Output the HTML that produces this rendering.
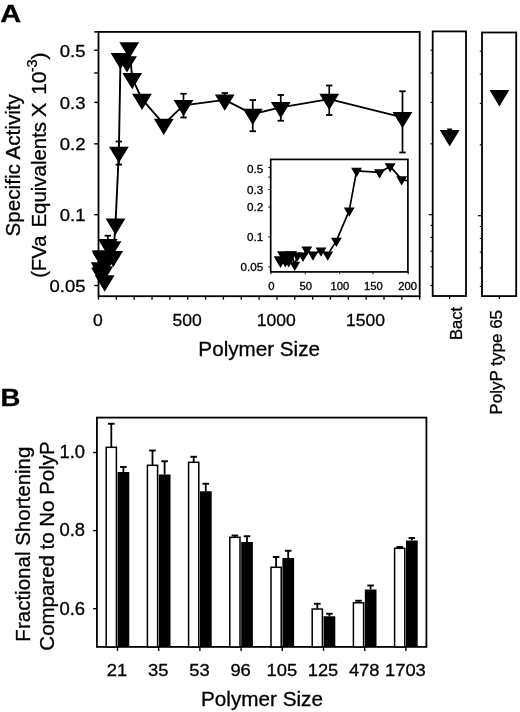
<!DOCTYPE html>
<html><head><meta charset="utf-8"><title>Figure</title>
<style>html,body{margin:0;padding:0;background:#fff}body{width:520px;height:712px;overflow:hidden}</style></head>
<body>
<svg width="520" height="712" viewBox="0 0 520 712" style="display:block;will-change:transform;opacity:0.999">
<rect width="520" height="712" fill="#fff"/>
<style>text{stroke:#000;stroke-width:0.3px;fill:#000}</style>
<text x="0" y="22.2" font-family="Liberation Sans, sans-serif" font-size="24.3" font-weight="bold" transform="translate(0.3,0) scale(1.19,1)">A</text>
<text x="0" y="406.3" font-family="Liberation Sans, sans-serif" font-size="23.7" font-weight="bold" transform="translate(0.4,0) scale(1.16,1)">B</text>
<rect x="98.5" y="31.9" width="321.2" height="264.3" fill="none" stroke="#000" stroke-width="1.8"/>
<line x1="94.2" y1="50.20" x2="98.5" y2="50.20" stroke="#000" stroke-width="1.4"/>
<text x="85.5" y="56.80" font-family="Liberation Sans, sans-serif" font-size="17.3" text-anchor="end" transform="translate(85.5,0) scale(1.07,1) translate(-85.5,0)">0.5</text>
<line x1="94.2" y1="73.00" x2="98.5" y2="73.00" stroke="#000" stroke-width="1.4"/>
<line x1="94.2" y1="102.40" x2="98.5" y2="102.40" stroke="#000" stroke-width="1.4"/>
<text x="85.5" y="109.00" font-family="Liberation Sans, sans-serif" font-size="17.3" text-anchor="end" transform="translate(85.5,0) scale(1.07,1) translate(-85.5,0)">0.3</text>
<line x1="94.2" y1="143.84" x2="98.5" y2="143.84" stroke="#000" stroke-width="1.4"/>
<text x="85.5" y="150.44" font-family="Liberation Sans, sans-serif" font-size="17.3" text-anchor="end" transform="translate(85.5,0) scale(1.07,1) translate(-85.5,0)">0.2</text>
<line x1="94.2" y1="214.67" x2="98.5" y2="214.67" stroke="#000" stroke-width="1.4"/>
<text x="85.5" y="221.27" font-family="Liberation Sans, sans-serif" font-size="17.3" text-anchor="end" transform="translate(85.5,0) scale(1.07,1) translate(-85.5,0)">0.1</text>
<line x1="94.2" y1="285.50" x2="98.5" y2="285.50" stroke="#000" stroke-width="1.4"/>
<text x="85.5" y="292.10" font-family="Liberation Sans, sans-serif" font-size="17.3" text-anchor="end" transform="translate(85.5,0) scale(1.07,1) translate(-85.5,0)">0.05</text>
<line x1="94.3" y1="31.9" x2="98.5" y2="31.9" stroke="#000" stroke-width="1.6"/>
<line x1="98.50" y1="296.2" x2="98.50" y2="299.7" stroke="#000" stroke-width="1.3"/>
<line x1="116.34" y1="296.2" x2="116.34" y2="299.7" stroke="#000" stroke-width="1.3"/>
<line x1="134.19" y1="296.2" x2="134.19" y2="299.7" stroke="#000" stroke-width="1.3"/>
<line x1="152.03" y1="296.2" x2="152.03" y2="299.7" stroke="#000" stroke-width="1.3"/>
<line x1="169.88" y1="296.2" x2="169.88" y2="299.7" stroke="#000" stroke-width="1.3"/>
<line x1="187.72" y1="296.2" x2="187.72" y2="299.7" stroke="#000" stroke-width="1.3"/>
<line x1="205.56" y1="296.2" x2="205.56" y2="299.7" stroke="#000" stroke-width="1.3"/>
<line x1="223.41" y1="296.2" x2="223.41" y2="299.7" stroke="#000" stroke-width="1.3"/>
<line x1="241.25" y1="296.2" x2="241.25" y2="299.7" stroke="#000" stroke-width="1.3"/>
<line x1="259.10" y1="296.2" x2="259.10" y2="299.7" stroke="#000" stroke-width="1.3"/>
<line x1="276.94" y1="296.2" x2="276.94" y2="299.7" stroke="#000" stroke-width="1.3"/>
<line x1="294.78" y1="296.2" x2="294.78" y2="299.7" stroke="#000" stroke-width="1.3"/>
<line x1="312.63" y1="296.2" x2="312.63" y2="299.7" stroke="#000" stroke-width="1.3"/>
<line x1="330.47" y1="296.2" x2="330.47" y2="299.7" stroke="#000" stroke-width="1.3"/>
<line x1="348.32" y1="296.2" x2="348.32" y2="299.7" stroke="#000" stroke-width="1.3"/>
<line x1="366.16" y1="296.2" x2="366.16" y2="299.7" stroke="#000" stroke-width="1.3"/>
<line x1="384.00" y1="296.2" x2="384.00" y2="299.7" stroke="#000" stroke-width="1.3"/>
<line x1="401.85" y1="296.2" x2="401.85" y2="299.7" stroke="#000" stroke-width="1.3"/>
<line x1="419.69" y1="296.2" x2="419.69" y2="299.7" stroke="#000" stroke-width="1.3"/>
<text x="97.90" y="325.7" font-family="Liberation Sans, sans-serif" font-size="17.2" text-anchor="middle" transform="translate(97.90,0) scale(1.02,1) translate(-97.90,0)">0</text>
<text x="187.12" y="325.7" font-family="Liberation Sans, sans-serif" font-size="17.2" text-anchor="middle" transform="translate(187.12,0) scale(1.02,1) translate(-187.12,0)">500</text>
<text x="276.34" y="325.7" font-family="Liberation Sans, sans-serif" font-size="17.2" text-anchor="middle" transform="translate(276.34,0) scale(1.02,1) translate(-276.34,0)">1000</text>
<text x="365.56" y="325.7" font-family="Liberation Sans, sans-serif" font-size="17.2" text-anchor="middle" transform="translate(365.56,0) scale(1.02,1) translate(-365.56,0)">1500</text>
<text x="259.2" y="356.3" font-family="Liberation Sans, sans-serif" font-size="19.4" text-anchor="middle" transform="translate(259.2,0) scale(1.065,1) translate(-259.2,0)">Polymer Size</text>
<text transform="translate(19.9,165.3) rotate(-90) scale(1.066,1)" font-family="Liberation Sans, sans-serif" font-size="19.4" text-anchor="middle">Specific Activity</text>
<text transform="translate(46.4,277.85) rotate(-90) scale(1.0401,1)" font-family="Liberation Sans, sans-serif" font-size="19.4">(FVa</text>
<text transform="translate(46.4,227.58) rotate(-90) scale(1.0540,1)" font-family="Liberation Sans, sans-serif" font-size="19.4">Equivalents</text>
<text transform="translate(46.4,117.29) rotate(-90) scale(1.1400,1)" font-family="Liberation Sans, sans-serif" font-size="19.4">X</text>
<text transform="translate(46.4,94.78) rotate(-90) scale(1.0743,1)" font-family="Liberation Sans, sans-serif" font-size="19.4">10</text>
<text transform="translate(37.0,72.24) rotate(-90) scale(0.9643,1)" font-family="Liberation Sans, sans-serif" font-size="15.0">-3</text>
<text transform="translate(46.4,59.71) rotate(-90) scale(1.1627,1)" font-family="Liberation Sans, sans-serif" font-size="19.4">)</text>
<path d="M100.63,267.75 L100.97,273.19 L101.49,255.91 L102.22,272.01 L102.53,258.28 L103.10,272.01 L103.55,256.38 L103.91,255.91 L104.69,280.77 L105.34,258.75 L106.82,258.99 L107.81,244.55 L109.42,256.38 L111.51,246.68 L113.25,256.38 L115.50,224.00 L118.85,152.10 L120.50,58.40 L127.00,61.65 L129.25,47.60 L132.25,78.40 L142.00,99.15 L163.75,124.15 L183.50,105.40 L224.75,99.90 L252.75,114.15 L280.75,107.40 L329.25,99.15 L402.50,117.40" fill="none" stroke="#000" stroke-width="1.9" stroke-linejoin="round"/>
<line x1="107.81" y1="235.70" x2="107.81" y2="244.55" stroke="#000" stroke-width="1.7"/>
<line x1="104.61" y1="235.70" x2="111.01" y2="235.70" stroke="#000" stroke-width="1.8"/>
<line x1="118.85" y1="141.50" x2="118.85" y2="164.60" stroke="#000" stroke-width="1.7"/>
<line x1="115.65" y1="141.50" x2="122.05" y2="141.50" stroke="#000" stroke-width="1.8"/>
<line x1="115.65" y1="164.60" x2="122.05" y2="164.60" stroke="#000" stroke-width="1.8"/>
<line x1="183.50" y1="93.75" x2="183.50" y2="117.50" stroke="#000" stroke-width="1.7"/>
<line x1="180.30" y1="93.75" x2="186.70" y2="93.75" stroke="#000" stroke-width="1.8"/>
<line x1="180.30" y1="117.50" x2="186.70" y2="117.50" stroke="#000" stroke-width="1.8"/>
<line x1="224.75" y1="93.00" x2="224.75" y2="99.90" stroke="#000" stroke-width="1.7"/>
<line x1="221.55" y1="93.00" x2="227.95" y2="93.00" stroke="#000" stroke-width="1.8"/>
<line x1="252.75" y1="100.00" x2="252.75" y2="131.25" stroke="#000" stroke-width="1.7"/>
<line x1="249.55" y1="100.00" x2="255.95" y2="100.00" stroke="#000" stroke-width="1.8"/>
<line x1="249.55" y1="131.25" x2="255.95" y2="131.25" stroke="#000" stroke-width="1.8"/>
<line x1="280.75" y1="95.00" x2="280.75" y2="120.75" stroke="#000" stroke-width="1.7"/>
<line x1="277.55" y1="95.00" x2="283.95" y2="95.00" stroke="#000" stroke-width="1.8"/>
<line x1="277.55" y1="120.75" x2="283.95" y2="120.75" stroke="#000" stroke-width="1.8"/>
<line x1="329.25" y1="85.50" x2="329.25" y2="115.00" stroke="#000" stroke-width="1.7"/>
<line x1="326.05" y1="85.50" x2="332.45" y2="85.50" stroke="#000" stroke-width="1.8"/>
<line x1="326.05" y1="115.00" x2="332.45" y2="115.00" stroke="#000" stroke-width="1.8"/>
<line x1="402.50" y1="91.25" x2="402.50" y2="152.50" stroke="#000" stroke-width="1.7"/>
<line x1="399.30" y1="91.25" x2="405.70" y2="91.25" stroke="#000" stroke-width="1.8"/>
<line x1="399.30" y1="152.50" x2="405.70" y2="152.50" stroke="#000" stroke-width="1.8"/>
<polygon points="90.73,262.28 110.53,262.28 100.63,278.68" fill="#000"/>
<polygon points="91.07,267.72 110.87,267.72 100.97,284.12" fill="#000"/>
<polygon points="91.59,250.44 111.39,250.44 101.49,266.84" fill="#000"/>
<polygon points="92.32,266.54 112.12,266.54 102.22,282.94" fill="#000"/>
<polygon points="92.63,252.81 112.43,252.81 102.53,269.21" fill="#000"/>
<polygon points="93.20,266.54 113.00,266.54 103.10,282.94" fill="#000"/>
<polygon points="93.65,250.92 113.45,250.92 103.55,267.32" fill="#000"/>
<polygon points="94.01,250.44 113.81,250.44 103.91,266.84" fill="#000"/>
<polygon points="94.79,275.30 114.59,275.30 104.69,291.70" fill="#000"/>
<polygon points="95.44,253.28 115.24,253.28 105.34,269.68" fill="#000"/>
<polygon points="96.92,253.52 116.72,253.52 106.82,269.92" fill="#000"/>
<polygon points="97.91,239.08 117.71,239.08 107.81,255.48" fill="#000"/>
<polygon points="99.52,250.92 119.32,250.92 109.42,267.32" fill="#000"/>
<polygon points="101.61,241.21 121.41,241.21 111.51,257.61" fill="#000"/>
<polygon points="103.35,250.92 123.15,250.92 113.25,267.32" fill="#000"/>
<polygon points="105.60,218.53 125.40,218.53 115.50,234.93" fill="#000"/>
<polygon points="108.95,146.63 128.75,146.63 118.85,163.03" fill="#000"/>
<polygon points="110.60,52.93 130.40,52.93 120.50,69.33" fill="#000"/>
<polygon points="117.10,56.18 136.90,56.18 127.00,72.58" fill="#000"/>
<polygon points="119.35,42.13 139.15,42.13 129.25,58.53" fill="#000"/>
<polygon points="122.35,72.93 142.15,72.93 132.25,89.33" fill="#000"/>
<polygon points="132.10,93.68 151.90,93.68 142.00,110.08" fill="#000"/>
<polygon points="153.85,118.68 173.65,118.68 163.75,135.08" fill="#000"/>
<polygon points="173.60,99.93 193.40,99.93 183.50,116.33" fill="#000"/>
<polygon points="214.85,94.43 234.65,94.43 224.75,110.83" fill="#000"/>
<polygon points="242.85,108.68 262.65,108.68 252.75,125.08" fill="#000"/>
<polygon points="270.85,101.93 290.65,101.93 280.75,118.33" fill="#000"/>
<polygon points="319.35,93.68 339.15,93.68 329.25,110.08" fill="#000"/>
<polygon points="392.60,111.93 412.40,111.93 402.50,128.33" fill="#000"/>
<rect x="270.7" y="159.4" width="137.2" height="112.49999999999997" fill="#fff" stroke="#000" stroke-width="1.7"/>
<line x1="268.4" y1="167.50" x2="270.7" y2="167.50" stroke="#000" stroke-width="1"/>
<text x="263.2" y="173.00" font-family="Liberation Sans, sans-serif" font-size="10.8" text-anchor="end" transform="translate(263.2,0) scale(1.08,1) translate(-263.2,0)">0.5</text>
<line x1="268.4" y1="177.13" x2="270.7" y2="177.13" stroke="#000" stroke-width="1"/>
<line x1="268.4" y1="189.55" x2="270.7" y2="189.55" stroke="#000" stroke-width="1"/>
<text x="263.2" y="193.55" font-family="Liberation Sans, sans-serif" font-size="10.8" text-anchor="end" transform="translate(263.2,0) scale(1.08,1) translate(-263.2,0)">0.3</text>
<line x1="268.4" y1="207.06" x2="270.7" y2="207.06" stroke="#000" stroke-width="1"/>
<text x="263.2" y="211.06" font-family="Liberation Sans, sans-serif" font-size="10.8" text-anchor="end" transform="translate(263.2,0) scale(1.08,1) translate(-263.2,0)">0.2</text>
<line x1="268.4" y1="236.98" x2="270.7" y2="236.98" stroke="#000" stroke-width="1"/>
<text x="263.2" y="240.98" font-family="Liberation Sans, sans-serif" font-size="10.8" text-anchor="end" transform="translate(263.2,0) scale(1.08,1) translate(-263.2,0)">0.1</text>
<line x1="268.4" y1="266.90" x2="270.7" y2="266.90" stroke="#000" stroke-width="1"/>
<text x="263.2" y="270.90" font-family="Liberation Sans, sans-serif" font-size="10.8" text-anchor="end" transform="translate(263.2,0) scale(1.08,1) translate(-263.2,0)">0.05</text>
<line x1="271.00" y1="271.9" x2="271.00" y2="274.2" stroke="#000" stroke-width="1"/>
<text x="271.40" y="289.7" font-family="Liberation Sans, sans-serif" font-size="10.6" text-anchor="middle" transform="translate(271.40,0) scale(1.06,1) translate(-271.40,0)">0</text>
<line x1="305.30" y1="271.9" x2="305.30" y2="274.2" stroke="#000" stroke-width="1"/>
<text x="305.70" y="289.7" font-family="Liberation Sans, sans-serif" font-size="10.6" text-anchor="middle" transform="translate(305.70,0) scale(1.06,1) translate(-305.70,0)">50</text>
<line x1="339.60" y1="271.9" x2="339.60" y2="274.2" stroke="#000" stroke-width="1"/>
<text x="340.00" y="289.7" font-family="Liberation Sans, sans-serif" font-size="10.6" text-anchor="middle" transform="translate(340.00,0) scale(1.06,1) translate(-340.00,0)">100</text>
<line x1="372.90" y1="271.9" x2="372.90" y2="274.2" stroke="#000" stroke-width="1"/>
<text x="373.30" y="289.7" font-family="Liberation Sans, sans-serif" font-size="10.6" text-anchor="middle" transform="translate(373.30,0) scale(1.06,1) translate(-373.30,0)">150</text>
<line x1="408.20" y1="271.9" x2="408.20" y2="274.2" stroke="#000" stroke-width="1"/>
<text x="407.60" y="289.7" font-family="Liberation Sans, sans-serif" font-size="10.6" text-anchor="middle" transform="translate(407.60,0) scale(1.06,1) translate(-407.60,0)">200</text>
<clipPath id="ic"><rect x="270.7" y="159.4" width="137.2" height="112.49999999999997"/></clipPath>
<g clip-path="url(#ic)"><path d="M279.20,259.40 L280.50,261.70 L282.50,254.40 L285.30,261.20 L286.50,255.40 L288.70,261.20 L290.40,254.60 L291.80,254.40 L294.80,264.90 L297.30,255.60 L303.00,255.70 L306.80,249.60 L313.00,254.60 L321.00,250.50 L327.70,254.60 L336.36,240.92 L349.23,210.55 L356.58,170.96 L379.57,172.34 L390.12,166.40 L401.65,179.41 L438.23,188.18" fill="none" stroke="#000" stroke-width="1.7" stroke-linejoin="round"/></g>
<polygon points="273.75,256.30 284.65,256.30 279.20,265.60" fill="#000"/>
<polygon points="275.05,258.60 285.95,258.60 280.50,267.90" fill="#000"/>
<polygon points="277.05,251.30 287.95,251.30 282.50,260.60" fill="#000"/>
<polygon points="279.85,258.10 290.75,258.10 285.30,267.40" fill="#000"/>
<polygon points="281.05,252.30 291.95,252.30 286.50,261.60" fill="#000"/>
<polygon points="283.25,258.10 294.15,258.10 288.70,267.40" fill="#000"/>
<polygon points="284.95,251.50 295.85,251.50 290.40,260.80" fill="#000"/>
<polygon points="286.35,251.30 297.25,251.30 291.80,260.60" fill="#000"/>
<polygon points="289.35,261.80 300.25,261.80 294.80,271.10" fill="#000"/>
<polygon points="291.85,252.50 302.75,252.50 297.30,261.80" fill="#000"/>
<polygon points="297.55,252.60 308.45,252.60 303.00,261.90" fill="#000"/>
<polygon points="301.35,246.50 312.25,246.50 306.80,255.80" fill="#000"/>
<polygon points="307.55,251.50 318.45,251.50 313.00,260.80" fill="#000"/>
<polygon points="315.55,247.40 326.45,247.40 321.00,256.70" fill="#000"/>
<polygon points="322.25,251.50 333.15,251.50 327.70,260.80" fill="#000"/>
<polygon points="330.91,237.82 341.81,237.82 336.36,247.12" fill="#000"/>
<polygon points="343.78,207.45 354.68,207.45 349.23,216.75" fill="#000"/>
<polygon points="351.13,167.86 362.03,167.86 356.58,177.16" fill="#000"/>
<polygon points="374.12,169.24 385.02,169.24 379.57,178.54" fill="#000"/>
<polygon points="384.67,163.30 395.57,163.30 390.12,172.60" fill="#000"/>
<polygon points="396.20,176.31 407.10,176.31 401.65,185.61" fill="#000"/>
<rect x="432.7" y="31.4" width="33.30000000000001" height="264.6" fill="none" stroke="#000" stroke-width="1.8"/>
<line x1="430.5" y1="50.20" x2="432.7" y2="50.20" stroke="#000" stroke-width="1.1"/>
<line x1="430.5" y1="73.00" x2="432.7" y2="73.00" stroke="#000" stroke-width="1.1"/>
<line x1="430.5" y1="102.40" x2="432.7" y2="102.40" stroke="#000" stroke-width="1.1"/>
<line x1="430.5" y1="143.84" x2="432.7" y2="143.84" stroke="#000" stroke-width="1.1"/>
<line x1="430.5" y1="225.43" x2="432.7" y2="225.43" stroke="#000" stroke-width="1.1"/>
<line x1="430.5" y1="237.47" x2="432.7" y2="237.47" stroke="#000" stroke-width="1.1"/>
<line x1="430.5" y1="251.12" x2="432.7" y2="251.12" stroke="#000" stroke-width="1.1"/>
<line x1="430.5" y1="266.87" x2="432.7" y2="266.87" stroke="#000" stroke-width="1.1"/>
<line x1="430.5" y1="285.50" x2="432.7" y2="285.50" stroke="#000" stroke-width="1.1"/>
<line x1="428.7" y1="214.67" x2="432.7" y2="214.67" stroke="#000" stroke-width="1.2"/>
<line x1="449.65000000000003" y1="296.0" x2="449.65000000000003" y2="299.0" stroke="#000" stroke-width="1.2"/>
<line x1="447.15000000000003" y1="129.3" x2="452.15000000000003" y2="129.3" stroke="#000" stroke-width="1.6"/>
<polygon points="439.75,130.00 459.55,130.00 449.65,146.40" fill="#000"/>
<text transform="translate(461.6,306.9) rotate(-90) scale(0.96,1)" font-family="Liberation Sans, sans-serif" font-size="17.3" text-anchor="end">Bact</text>
<rect x="482.0" y="32.5" width="34.200000000000045" height="263.6" fill="none" stroke="#000" stroke-width="1.8"/>
<line x1="479.8" y1="51.20" x2="482.0" y2="51.20" stroke="#000" stroke-width="1.1"/>
<line x1="479.8" y1="74.00" x2="482.0" y2="74.00" stroke="#000" stroke-width="1.1"/>
<line x1="479.8" y1="103.40" x2="482.0" y2="103.40" stroke="#000" stroke-width="1.1"/>
<line x1="479.8" y1="144.84" x2="482.0" y2="144.84" stroke="#000" stroke-width="1.1"/>
<line x1="479.8" y1="226.43" x2="482.0" y2="226.43" stroke="#000" stroke-width="1.1"/>
<line x1="479.8" y1="238.47" x2="482.0" y2="238.47" stroke="#000" stroke-width="1.1"/>
<line x1="479.8" y1="252.12" x2="482.0" y2="252.12" stroke="#000" stroke-width="1.1"/>
<line x1="479.8" y1="267.87" x2="482.0" y2="267.87" stroke="#000" stroke-width="1.1"/>
<line x1="479.8" y1="286.50" x2="482.0" y2="286.50" stroke="#000" stroke-width="1.1"/>
<line x1="478.0" y1="215.67" x2="482.0" y2="215.67" stroke="#000" stroke-width="1.2"/>
<line x1="499.40000000000003" y1="296.1" x2="499.40000000000003" y2="299.1" stroke="#000" stroke-width="1.2"/>
<polygon points="489.50,90.00 509.30,90.00 499.40,106.40" fill="#000"/>
<text transform="translate(502.4,309.9) rotate(-90) scale(0.985,1)" font-family="Liberation Sans, sans-serif" font-size="17.3" text-anchor="end">PolyP type 65</text>
<rect x="96.9" y="417.6" width="329.5" height="229.29999999999995" fill="none" stroke="#000" stroke-width="1.8"/>
<line x1="111.30" y1="423.75" x2="111.30" y2="447.0" stroke="#000" stroke-width="1.8"/>
<line x1="108.00" y1="423.75" x2="114.60" y2="423.75" stroke="#000" stroke-width="1.9"/>
<line x1="123.40" y1="467.0" x2="123.40" y2="472.0" stroke="#000" stroke-width="1.8"/>
<line x1="120.10" y1="467.0" x2="126.70" y2="467.0" stroke="#000" stroke-width="1.9"/>
<rect x="106.20" y="447.3" width="10.2" height="199.60" fill="#fff" stroke="#000" stroke-width="1.5"/>
<rect x="117.60" y="472.0" width="11.7" height="174.90" fill="#000"/>
<line x1="117.50" y1="646.9" x2="117.50" y2="650.9" stroke="#000" stroke-width="1.4"/>
<text x="117.00" y="675.8" font-family="Liberation Sans, sans-serif" font-size="17" text-anchor="middle" transform="translate(117.00,0) scale(1.08,1) translate(-117.00,0)">21</text>
<line x1="152.50" y1="450.5" x2="152.50" y2="465.0" stroke="#000" stroke-width="1.8"/>
<line x1="149.20" y1="450.5" x2="155.80" y2="450.5" stroke="#000" stroke-width="1.9"/>
<line x1="164.60" y1="461.25" x2="164.60" y2="474.5" stroke="#000" stroke-width="1.8"/>
<line x1="161.30" y1="461.25" x2="167.90" y2="461.25" stroke="#000" stroke-width="1.9"/>
<rect x="147.40" y="465.3" width="10.2" height="181.60" fill="#fff" stroke="#000" stroke-width="1.5"/>
<rect x="158.80" y="474.5" width="11.7" height="172.40" fill="#000"/>
<line x1="158.70" y1="646.9" x2="158.70" y2="650.9" stroke="#000" stroke-width="1.4"/>
<text x="158.20" y="675.8" font-family="Liberation Sans, sans-serif" font-size="17" text-anchor="middle" transform="translate(158.20,0) scale(1.08,1) translate(-158.20,0)">35</text>
<line x1="193.70" y1="456.75" x2="193.70" y2="462.0" stroke="#000" stroke-width="1.8"/>
<line x1="190.40" y1="456.75" x2="197.00" y2="456.75" stroke="#000" stroke-width="1.9"/>
<line x1="205.80" y1="483.75" x2="205.80" y2="491.25" stroke="#000" stroke-width="1.8"/>
<line x1="202.50" y1="483.75" x2="209.10" y2="483.75" stroke="#000" stroke-width="1.9"/>
<rect x="188.60" y="462.3" width="10.2" height="184.60" fill="#fff" stroke="#000" stroke-width="1.5"/>
<rect x="200.00" y="491.25" width="11.7" height="155.65" fill="#000"/>
<line x1="199.90" y1="646.9" x2="199.90" y2="650.9" stroke="#000" stroke-width="1.4"/>
<text x="199.40" y="675.8" font-family="Liberation Sans, sans-serif" font-size="17" text-anchor="middle" transform="translate(199.40,0) scale(1.08,1) translate(-199.40,0)">53</text>
<line x1="234.90" y1="535.5" x2="234.90" y2="537.0" stroke="#000" stroke-width="1.8"/>
<line x1="231.60" y1="535.5" x2="238.20" y2="535.5" stroke="#000" stroke-width="1.9"/>
<line x1="247.00" y1="536.25" x2="247.00" y2="542.0" stroke="#000" stroke-width="1.8"/>
<line x1="243.70" y1="536.25" x2="250.30" y2="536.25" stroke="#000" stroke-width="1.9"/>
<rect x="229.80" y="537.3" width="10.2" height="109.60" fill="#fff" stroke="#000" stroke-width="1.5"/>
<rect x="241.20" y="542.0" width="11.7" height="104.90" fill="#000"/>
<line x1="241.10" y1="646.9" x2="241.10" y2="650.9" stroke="#000" stroke-width="1.4"/>
<text x="240.60" y="675.8" font-family="Liberation Sans, sans-serif" font-size="17" text-anchor="middle" transform="translate(240.60,0) scale(1.08,1) translate(-240.60,0)">96</text>
<line x1="276.10" y1="557.0" x2="276.10" y2="567.0" stroke="#000" stroke-width="1.8"/>
<line x1="272.80" y1="557.0" x2="279.40" y2="557.0" stroke="#000" stroke-width="1.9"/>
<line x1="288.20" y1="550.75" x2="288.20" y2="558.0" stroke="#000" stroke-width="1.8"/>
<line x1="284.90" y1="550.75" x2="291.50" y2="550.75" stroke="#000" stroke-width="1.9"/>
<rect x="271.00" y="567.3" width="10.2" height="79.60" fill="#fff" stroke="#000" stroke-width="1.5"/>
<rect x="282.40" y="558.0" width="11.7" height="88.90" fill="#000"/>
<line x1="282.30" y1="646.9" x2="282.30" y2="650.9" stroke="#000" stroke-width="1.4"/>
<text x="281.80" y="675.8" font-family="Liberation Sans, sans-serif" font-size="17" text-anchor="middle" transform="translate(281.80,0) scale(1.08,1) translate(-281.80,0)">105</text>
<line x1="317.30" y1="603.75" x2="317.30" y2="608.75" stroke="#000" stroke-width="1.8"/>
<line x1="314.00" y1="603.75" x2="320.60" y2="603.75" stroke="#000" stroke-width="1.9"/>
<line x1="329.40" y1="613.75" x2="329.40" y2="616.25" stroke="#000" stroke-width="1.8"/>
<line x1="326.10" y1="613.75" x2="332.70" y2="613.75" stroke="#000" stroke-width="1.9"/>
<rect x="312.20" y="609.05" width="10.2" height="37.85" fill="#fff" stroke="#000" stroke-width="1.5"/>
<rect x="323.60" y="616.25" width="11.7" height="30.65" fill="#000"/>
<line x1="323.50" y1="646.9" x2="323.50" y2="650.9" stroke="#000" stroke-width="1.4"/>
<text x="323.00" y="675.8" font-family="Liberation Sans, sans-serif" font-size="17" text-anchor="middle" transform="translate(323.00,0) scale(1.08,1) translate(-323.00,0)">125</text>
<line x1="358.50" y1="600.75" x2="358.50" y2="602.5" stroke="#000" stroke-width="1.8"/>
<line x1="355.20" y1="600.75" x2="361.80" y2="600.75" stroke="#000" stroke-width="1.9"/>
<line x1="370.60" y1="585.5" x2="370.60" y2="589.5" stroke="#000" stroke-width="1.8"/>
<line x1="367.30" y1="585.5" x2="373.90" y2="585.5" stroke="#000" stroke-width="1.9"/>
<rect x="353.40" y="602.8" width="10.2" height="44.10" fill="#fff" stroke="#000" stroke-width="1.5"/>
<rect x="364.80" y="589.5" width="11.7" height="57.40" fill="#000"/>
<line x1="364.70" y1="646.9" x2="364.70" y2="650.9" stroke="#000" stroke-width="1.4"/>
<text x="364.20" y="675.8" font-family="Liberation Sans, sans-serif" font-size="17" text-anchor="middle" transform="translate(364.20,0) scale(1.08,1) translate(-364.20,0)">478</text>
<line x1="399.70" y1="547.0" x2="399.70" y2="548.0" stroke="#000" stroke-width="1.8"/>
<line x1="396.40" y1="547.0" x2="403.00" y2="547.0" stroke="#000" stroke-width="1.9"/>
<line x1="411.80" y1="538.0" x2="411.80" y2="540.5" stroke="#000" stroke-width="1.8"/>
<line x1="408.50" y1="538.0" x2="415.10" y2="538.0" stroke="#000" stroke-width="1.9"/>
<rect x="394.60" y="548.3" width="10.2" height="98.60" fill="#fff" stroke="#000" stroke-width="1.5"/>
<rect x="406.00" y="540.5" width="11.7" height="106.40" fill="#000"/>
<line x1="405.90" y1="646.9" x2="405.90" y2="650.9" stroke="#000" stroke-width="1.4"/>
<text x="405.40" y="675.8" font-family="Liberation Sans, sans-serif" font-size="17" text-anchor="middle" transform="translate(405.40,0) scale(1.08,1) translate(-405.40,0)">1703</text>
<line x1="93.10000000000001" y1="452.5" x2="96.9" y2="452.5" stroke="#000" stroke-width="1.4"/>
<text x="85" y="458.40" font-family="Liberation Sans, sans-serif" font-size="17.7" text-anchor="end" transform="translate(85,0) scale(1.04,1) translate(-85,0)">1.0</text>
<line x1="93.10000000000001" y1="530.6" x2="96.9" y2="530.6" stroke="#000" stroke-width="1.4"/>
<text x="85" y="536.50" font-family="Liberation Sans, sans-serif" font-size="17.7" text-anchor="end" transform="translate(85,0) scale(1.04,1) translate(-85,0)">0.8</text>
<line x1="93.10000000000001" y1="608.7" x2="96.9" y2="608.7" stroke="#000" stroke-width="1.4"/>
<text x="85" y="614.60" font-family="Liberation Sans, sans-serif" font-size="17.7" text-anchor="end" transform="translate(85,0) scale(1.04,1) translate(-85,0)">0.6</text>
<text x="262" y="705.8" font-family="Liberation Sans, sans-serif" font-size="19.4" text-anchor="middle" transform="translate(262,0) scale(1.067,1) translate(-262,0)">Polymer Size</text>
<text transform="translate(30.0,544.1) rotate(-90) scale(1.058,1)" font-family="Liberation Sans, sans-serif" font-size="19.4" text-anchor="middle">Fractional Shortening</text>
<text transform="translate(53.6,546.0) rotate(-90) scale(1.055,1)" font-family="Liberation Sans, sans-serif" font-size="19.4" text-anchor="middle">Compared to No PolyP</text>
</svg>
</body></html>
